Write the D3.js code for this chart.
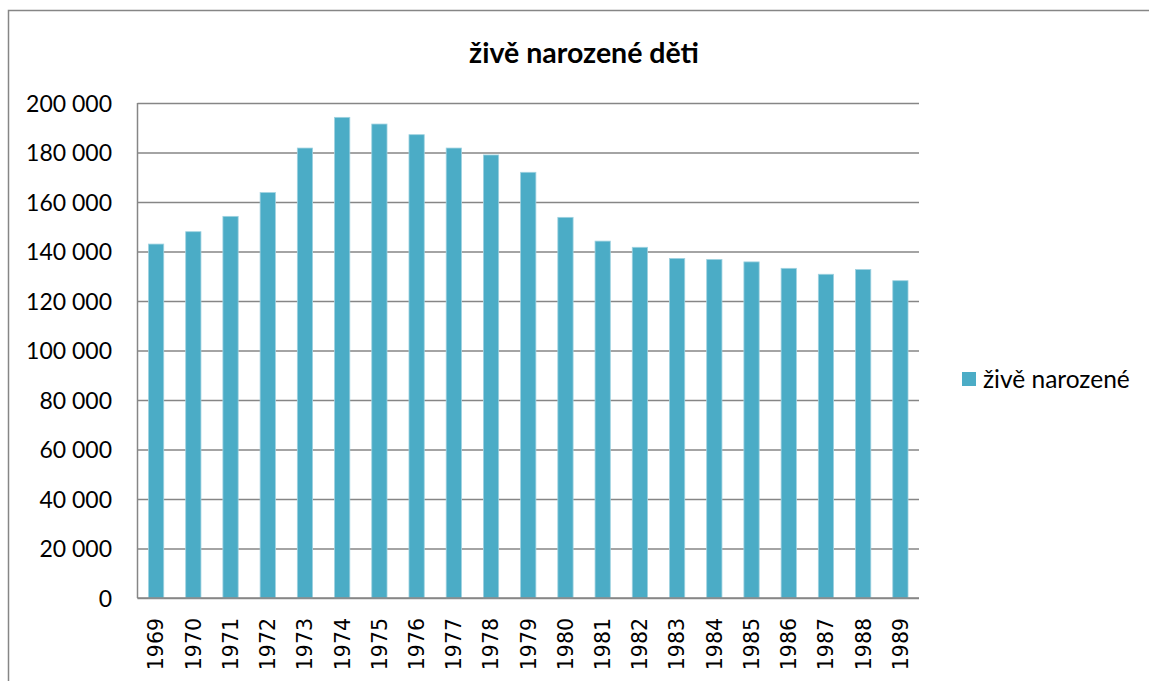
<!DOCTYPE html>
<meta charset="utf-8">
<style type="text/css">
	body {
		margin: 0;
		background: #ffffff;
	}
	.vis-births {
		width: 1149px;
		height: 681px;
		overflow: hidden;
	}
	.grid-births line {
		stroke: #868686;
		stroke-width: 1.5;
	}
	.bar-births {
		fill: #4bacc6;
		stroke: #9fd2e0;
		stroke-width: 0.8;
	}
	.ylabel-births {
		font-family: Lato, "Open Sans", sans-serif;
		font-size: 23px;
		fill: #000000;
	}
	.xlabel-births {
		font-family: "DejaVu Sans", sans-serif;
		font-size: 20.5px;
		fill: #000000;
	}
</style>

<div class='vis-births'></div>

<script src="https://d3js.org/d3.v7.min.js"></script>

<script>

	// Data
	let years = ["1969", "1970", "1971", "1972", "1973", "1974", "1975", "1976", "1977", "1978", "1979",
		"1980", "1981", "1982", "1983", "1984", "1985", "1986", "1987", "1988", "1989"];
	let births = [143000, 148000, 154200, 163800, 181800, 194200, 191500, 187200, 181800, 179000, 172000,
		153800, 144200, 141700, 137200, 136800, 135800, 133200, 130800, 132700, 128200];
	let yTicks = [0, 20000, 40000, 60000, 80000, 100000, 120000, 140000, 160000, 180000, 200000];
	let chartTitle = "živě narozené děti";
	let seriesName = "živě narozené";

	function birthsvis() {

		// Dimensions
		let plot = {left: 137.5, right: 919, top: 103, bottom: 598};

		let x = d3.scaleBand()
			.domain(years)
			.range([plot.left, plot.right])
			.paddingInner(0.59)
			.paddingOuter(0.295);
		let y = d3.scaleLinear().domain([0, 200000]).range([plot.bottom, plot.top]);

		// space as thousands separator
		let cz = d3.formatLocale({decimal: ",", thousands: "\u00a0", grouping: [3], currency: ["", ""]});
		let fmt = cz.format(",d");

		let svg = d3.select(".vis-births")
			.append("svg")
				.attr("width", 1149)
				.attr("height", 681);

		// outer frame
		svg.append("rect")
			.attr("x", 8.5)
			.attr("y", 10.5)
			.attr("width", 1160)
			.attr("height", 700)
			.attr("fill", "#ffffff")
			.attr("stroke", "#868686")
			.attr("stroke-width", 1.5);

		// TITLE
		svg.append("text")
			.attr("x", 584)
			.attr("y", 63)
			.style("text-anchor", "middle")
			.style("font-family", "Lato, 'Open Sans', sans-serif")
			.style("font-weight", 700)
			.style("font-size", "28.5px")
			.text(chartTitle);

		// GRID + Y AXIS
		let yAxis = d3.axisLeft(y)
			.tickValues(yTicks)
			.tickFormat(fmt)
			.tickSize(-(plot.right - plot.left))
			.tickPadding(plot.left - 112);

		let gy = svg.append("g")
			.attr("class", "grid-births")
			.attr("transform", "translate(" + plot.left + ",0)")
			.call(yAxis);
		gy.select(".domain").remove();
		gy.selectAll("text")
			.attr("class", "ylabel-births")
			.attr("dy", "0.36em");

		// left axis line
		svg.append("line")
			.attr("x1", plot.left).attr("x2", plot.left)
			.attr("y1", y(200000)).attr("y2", y(0))
			.attr("stroke", "#868686")
			.attr("stroke-width", 1.5);

		// BARS
		svg.selectAll(".bar-births")
			.data(years)
			.enter().append("rect")
			.attr("class", "bar-births")
			.attr("x", d => x(d))
			.attr("width", x.bandwidth())
			.attr("y", (d, i) => y(births[i]))
			.attr("height", (d, i) => y(0) - y(births[i]));

		// bottom axis line on top of bars
		svg.append("line")
			.attr("x1", plot.left).attr("x2", plot.right)
			.attr("y1", y(0)).attr("y2", y(0))
			.attr("stroke", "#868686")
			.attr("stroke-width", 1.5);

		// X AXIS
		let xAxis = d3.axisBottom(x).tickSize(0);
		let gx = svg.append("g")
			.attr("transform", "translate(0," + plot.bottom + ")")
			.call(xAxis);
		gx.select(".domain").remove();
		gx.selectAll("text")
			.attr("class", "xlabel-births")
			.attr("transform", "rotate(-90)")
			.attr("x", -20)
			.attr("y", 0)
			.attr("dy", "0.36em")
			.style("text-anchor", "end");

		// LEGEND
		let legend = svg.append("g").attr("transform", "translate(962,372)");
		legend.append("rect")
			.attr("width", 14)
			.attr("height", 14)
			.attr("fill", "#4bacc6");
		legend.append("text")
			.attr("x", 21)
			.attr("y", 7)
			.attr("dy", "0.36em")
			.attr("class", "ylabel-births")
			.style("font-size", "24.5px")
			.text(seriesName);
	}

	birthsvis()
</script>
